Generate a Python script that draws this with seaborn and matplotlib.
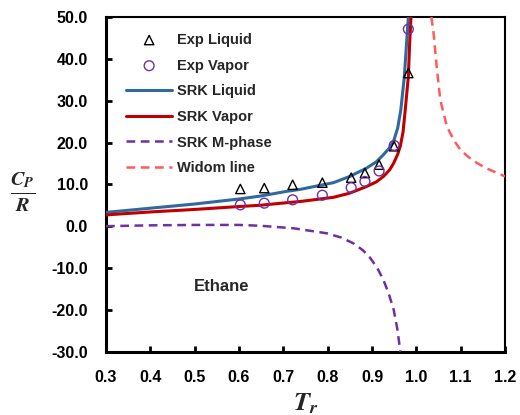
import numpy as np
import pandas as pd
import matplotlib
matplotlib.use("Agg")
import matplotlib.pyplot as plt
import seaborn as sns

# ---- data ----
exp_tr = [0.603, 0.657, 0.721, 0.788, 0.853, 0.884, 0.916, 0.950, 0.982]
exp_liq = [8.9, 9.1, 9.9, 10.4, 11.6, 12.7, 14.7, 19.1, 36.6]
exp_vap = [5.1, 5.5, 6.3, 7.4, 9.2, 10.7, 13.2, 19.3, 47.1]

srk_liq_tr = [0.30, 0.40, 0.50, 0.60, 0.648, 0.706, 0.738, 0.813, 0.850, 0.888, 0.910, 0.926, 0.940, 0.949, 0.958, 0.965, 0.973, 0.978, 0.982]
srk_liq_cp = [3.3, 4.3, 5.3, 6.5, 7.2, 8.3, 8.8, 10.4, 11.9, 13.9, 15.4, 17.1, 18.8, 20.4, 23.5, 27.8, 35.8, 43.8, 50.0]

srk_vap_tr = [0.30, 0.40, 0.50, 0.60, 0.648, 0.706, 0.738, 0.813, 0.850, 0.888, 0.910, 0.926, 0.940, 0.949, 0.958, 0.964, 0.970, 0.975, 0.982, 0.985, 0.988]
srk_vap_cp = [2.7, 3.4, 4.0, 4.7, 5.0, 5.6, 5.9, 6.9, 7.9, 9.5, 10.6, 11.9, 13.5, 15.1, 17.2, 19.2, 22.5, 27.8, 35.8, 43.8, 50.0]

m_tr = [0.30, 0.40, 0.50, 0.60, 0.648, 0.723, 0.798, 0.830, 0.858, 0.880, 0.896, 0.912, 0.926, 0.938, 0.949, 0.957, 0.964]
m_cp = [0.0, 0.2, 0.3, 0.3, 0.1, -0.5, -1.7, -2.7, -4.1, -5.8, -7.6, -10.0, -12.9, -16.2, -20.0, -24.5, -30.0]

widom_tr = [1.034, 1.039, 1.046, 1.054, 1.069, 1.085, 1.099, 1.118, 1.137, 1.155, 1.174, 1.200]
widom_cp = [50.0, 46.0, 38.0, 30.2, 23.8, 20.5, 18.3, 16.5, 15.1, 14.0, 13.1, 11.9]

xticks = [0.3, 0.4, 0.5, 0.6, 0.7, 0.8, 0.9, 1.0, 1.1, 1.2]
yticks = [-30, -20, -10, 0, 10, 20, 30, 40, 50]

# ---- style ----
sns.set_style("ticks")
plt.rcParams['font.family'] = ['Liberation Sans', 'DejaVu Sans']
plt.rcParams['font.weight'] = 'bold'
plt.rcParams['mathtext.fontset'] = 'stix'

fig = plt.figure(figsize=(5.2, 4.15), dpi=100)
ax = fig.add_axes([106/520, 1 - 351.7/415, (505-106)/520, (351.7-17)/415])

c_blue = '#2E6A9E'
c_red = '#C00000'
c_purple = '#7030A0'
c_widom = '#FF5B5B'

df_exp = pd.DataFrame({'Tr': exp_tr, 'liq': exp_liq, 'vap': exp_vap})
sns.scatterplot(data=df_exp, x='Tr', y='liq', marker='^', s=45, facecolors='none',
                edgecolor='black', linewidth=1.0, ax=ax, label='Exp Liquid', zorder=4)
sns.scatterplot(data=df_exp, x='Tr', y='vap', marker='o', s=50, facecolors='none',
                edgecolor=c_purple, linewidth=1.0, ax=ax, label='Exp Vapor', zorder=4)

sns.lineplot(x=srk_liq_tr, y=srk_liq_cp, color=c_blue, lw=2.2, ax=ax, label='SRK Liquid',
             sort=False, estimator=None, zorder=3)
sns.lineplot(x=srk_vap_tr, y=srk_vap_cp, color=c_red, lw=2.2, ax=ax, label='SRK Vapor',
             sort=False, estimator=None, zorder=3)
sns.lineplot(x=m_tr, y=m_cp, color=c_purple, lw=1.8, ax=ax, label='SRK M-phase',
             sort=False, estimator=None, linestyle=(0, (3.5, 2.2)), zorder=3)
sns.lineplot(x=widom_tr, y=widom_cp, color=c_widom, lw=1.8, ax=ax, label='Widom line',
             sort=False, estimator=None, linestyle=(0, (3.5, 2.2)), zorder=3)

ax.set_xlim(0.3, 1.2)
ax.set_ylim(-30, 50)
ax.set_xticks(xticks)
ax.set_yticks(yticks)
ax.set_xticklabels([f'{v:.1f}' for v in xticks])
ax.set_yticklabels([f'{v:.1f}' for v in yticks])
ax.tick_params(axis='both', direction='in', length=4, width=2, labelsize=11.5, colors='black')
ax.tick_params(axis='x', pad=13)
ax.tick_params(axis='y', pad=13)
for lab in ax.get_xticklabels() + ax.get_yticklabels():
    lab.set_fontweight('bold')

for s in ['left', 'bottom']:
    ax.spines[s].set_linewidth(2.2)
    ax.spines[s].set_color('black')
for s in ['top', 'right']:
    ax.spines[s].set_visible(True)
    ax.spines[s].set_linewidth(1.5)
    ax.spines[s].set_color('black')

ax.set_xlabel(r'$\mathbfit{T}_{\mathbfit{r}}$', fontsize=19, labelpad=5)
ax.set_ylabel('')
fig.text(23/520, 1 - 192/415, r'$\frac{\mathbfit{C}_{\mathbfit{P}}}{\mathbfit{R}}$',
         fontsize=21, ha='center', va='center')

ax.text(0.56, -14.3, 'Ethane', fontsize=12, fontweight='bold', ha='center', va='center')

leg = ax.legend(loc='upper left', bbox_to_anchor=(0.035, 0.97), frameon=False,
                fontsize=10.5, handlelength=3.2, handletextpad=0.3, labelspacing=0.8,
                borderaxespad=0)
for t in leg.get_texts():
    t.set_fontweight('bold')

fig.savefig('out.png', dpi=100)
